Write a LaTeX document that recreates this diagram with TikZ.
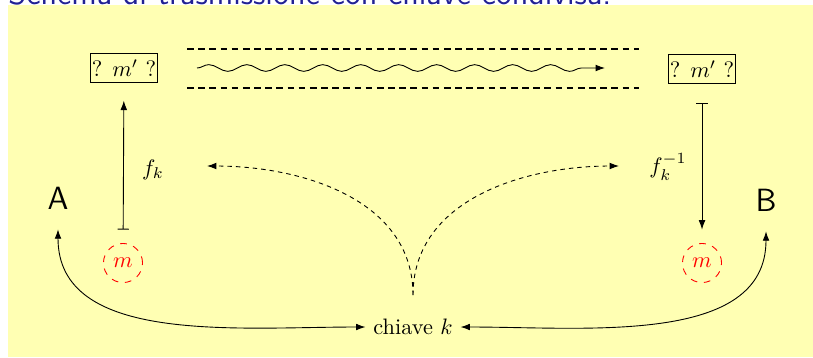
\documentclass[tikz,border=0pt]{standalone}
\usetikzlibrary{decorations.pathmorphing,arrows.meta}
\definecolor{bgyellow}{RGB}{255,255,179}
\definecolor{structure}{rgb}{0.13,0.13,0.58}
\tikzset{
  px/.style={x=0.4477pt,y=-0.4477pt},
  >={Latex[length=4.2pt,width=3pt]},
  mbox/.style={draw,inner xsep=0.6pt,inner ysep=2.6pt,line width=0.5pt},
  mcirc/.style={circle,draw=red,dashed,text=red,minimum size=17.5pt,inner sep=0pt},
  party/.style={font=\Large\sffamily},
  chan/.style={thick,densely dashed},
  keyarrow/.style={->,dash pattern=on 2pt off 1.8pt},
  solidarrow/.style={<->},
}
\begin{document}
\begin{tikzpicture}[px]
\useasboundingbox (0,0) rectangle (813,357);
\fill[bgyellow] (8,5) rectangle (813,357);
\node[anchor=base west,inner sep=0pt,text=structure,font=\fontsize{14.7}{18}\selectfont\sffamily] (title) at (8,4) {Schema di trasmissione con chiave condivisa.};
% boxes
\node[mbox] (boxL) at (124,68) {? $m'$ ?};
\node[mbox] (boxR) at (702,69) {? $m'$ ?};
% channel
\coordinate (c1a) at (187,49); \coordinate (c1b) at (639,49);
\coordinate (c2a) at (187,88); \coordinate (c2b) at (639,88);
\draw[chan] (c1a) -- (c1b);
\draw[chan] (c2a) -- (c2b);
\coordinate (wa) at (197,68); \coordinate (wb) at (605,68);
\draw[->,decorate,decoration={snake,segment length=17pt,amplitude=1.5pt,post length=2.5mm}] (wa) -- (wb);
% messages
\node[mcirc] (mL) at (123,263) {$m$};
\node[mcirc] (mR) at (702,263) {$m$};
\draw[{Bar[width=5pt]}->,shorten <=6pt,shorten >=8pt] (mL) -- (boxL);
\draw[{Bar[width=5pt]}->,shorten <=8.5pt,shorten >=6pt] (boxR) -- (mR);
\node (fk) at (153,170) {$f_k$};
\node (fki) at (668,167) {$f_k^{-1}$};
% parties
\node[party] (A) at (58,198) {A};
\node[party] (B) at (766,200) {B};
% key
\node (key) at (413,327) {chiave $k$};
\coordinate (ktop) at (413,295);
\coordinate (kl) at (207,166);
\coordinate (kr) at (619,166);
\draw[keyarrow] (ktop) to[out=90,in=0] (kl);
\draw[keyarrow] (ktop) to[out=90,in=180] (kr);
\draw[solidarrow,shorten <=5.5pt] (A.south) to[out=-90,in=180] (key.west);
\draw[solidarrow,shorten <=5.5pt] (B.south) to[out=-90,in=0] (key.east);
\end{tikzpicture}
\end{document}
